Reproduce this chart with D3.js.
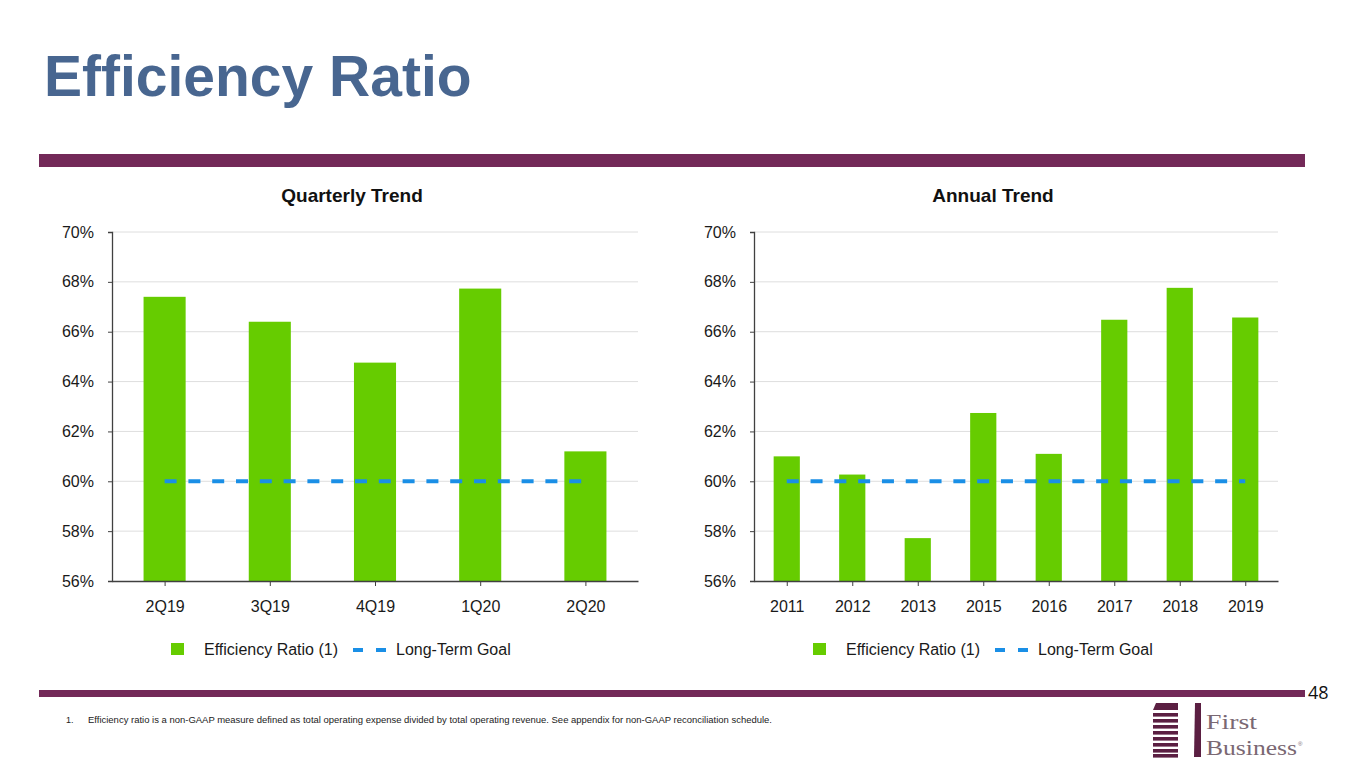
<!DOCTYPE html>
<html>
<head>
<meta charset="utf-8">
<script src="https://cdn.jsdelivr.net/npm/d3@7"></script>
<style>
  html, body { margin: 0; padding: 0; background: #fff; }
  svg { display: block; font-family: "Liberation Sans", Arial, sans-serif; }
</style>
</head>
<body>
<svg id="chart" width="1365" height="768"></svg>
<script>
// ---------- data ----------
const quarterCategories = ["2Q19", "3Q19", "4Q19", "1Q20", "2Q20"];
const quarterValues = [67.4, 66.4, 64.76, 67.73, 61.2];
const annualCategories = ["2011", "2012", "2013", "2015", "2016", "2017", "2018", "2019"];
const annualValues = [61.0, 60.27, 57.72, 62.74, 61.1, 66.48, 67.76, 66.57];
const goalValue = 60;
const yTicks = [56, 58, 60, 62, 64, 66, 68, 70];
const seriesNames = ["Efficiency Ratio (1)", "Long-Term Goal"];
const chartTitles = ["Quarterly Trend", "Annual Trend"];

const svg = d3.select("#chart");
const BAR = "#66cc00", GOAL = "#1a8fe6", PURPLE = "#732958";

// ---------- header ----------
svg.append("text").attr("x", 44).attr("y", 96)
  .attr("fill", "#486690").attr("font-size", 57).attr("font-weight", "bold")
  .text("Efficiency Ratio");
svg.append("rect").attr("x", 39).attr("y", 154).attr("width", 1266).attr("height", 13).attr("fill", PURPLE);

// ---------- charts ----------
function drawChart(cfg) {
  const { x0, x1, cats, vals, title } = cfg;
  const yTop = 232, yBot = 581;
  const x = d3.scaleBand().domain(cats).range([x0, x1]).paddingInner(0.6).paddingOuter(0.3);
  const xc = d3.scalePoint().domain(cats).range([x0, x1]).padding(0.5);
  const y = d3.scaleLinear().domain([56, 70]).range([yBot, yTop]);
  const g = svg.append("g");

  g.append("text").attr("x", (x0 + x1) / 2 - 23).attr("y", 202).attr("text-anchor", "middle")
    .attr("font-size", 19).attr("font-weight", "bold").attr("fill", "#111").text(title);

  // gridlines
  g.append("g").selectAll("line").data(yTicks.filter(t => t > 56)).join("line")
    .attr("x1", x0).attr("x2", x1).attr("y1", d => y(d)).attr("y2", d => y(d))
    .attr("stroke", "#dedede").attr("stroke-width", 1);

  // bars
  g.append("g").selectAll("rect").data(vals).join("rect")
    .attr("x", (d, i) => xc(cats[i]) - x.bandwidth() / 2)
    .attr("width", x.bandwidth())
    .attr("y", d => y(d)).attr("height", d => yBot - y(d))
    .attr("fill", BAR);

  // goal line
  g.append("line")
    .attr("x1", xc(cats[0])).attr("x2", xc(cats[cats.length - 1]))
    .attr("y1", y(goalValue)).attr("y2", y(goalValue))
    .attr("stroke", GOAL).attr("stroke-width", 4).attr("stroke-dasharray", "12,11.8");

  // y axis
  const ya = g.append("g").attr("transform", `translate(${x0},0)`)
    .call(d3.axisLeft(y).tickValues(yTicks).tickFormat(d => d + "%").tickSize(4).tickPadding(14));
  ya.select(".domain").attr("stroke", "#404040").attr("stroke-width", 1.3);
  ya.selectAll(".tick line").attr("stroke", "#404040");
  ya.selectAll("text").attr("font-size", 16).attr("fill", "#1a1a1a")
    .attr("font-family", "'Liberation Sans', Arial, sans-serif");

  // x axis
  const xa = g.append("g").attr("transform", `translate(0,${yBot})`)
    .call(d3.axisBottom(xc).tickSize(5).tickPadding(15).tickSizeOuter(0));
  xa.select(".domain").attr("stroke", "#404040").attr("stroke-width", 1.3);
  xa.selectAll(".tick line").attr("stroke", "#404040");
  xa.selectAll("text").attr("font-size", 16).attr("fill", "#1a1a1a")
    .attr("font-family", "'Liberation Sans', Arial, sans-serif");

  // legend
  const ox = x0 + 59, ly = 655;
  const lg = g.append("g");
  lg.append("rect").attr("x", ox).attr("y", ly - 12).attr("width", 13).attr("height", 12).attr("fill", BAR);
  lg.append("text").attr("x", ox + 33).attr("y", ly).attr("font-size", 16).attr("fill", "#1a1a1a").text(seriesNames[0]);
  lg.append("line").attr("x1", ox + 182).attr("x2", ox + 215).attr("y1", ly - 5).attr("y2", ly - 5)
    .attr("stroke", GOAL).attr("stroke-width", 4).attr("stroke-dasharray", "10,13");
  lg.append("text").attr("x", ox + 225).attr("y", ly).attr("font-size", 16).attr("fill", "#1a1a1a").text(seriesNames[1]);
}

drawChart({ x0: 112, x1: 638, cats: quarterCategories, vals: quarterValues, title: chartTitles[0] });
drawChart({ x0: 754, x1: 1278, cats: annualCategories, vals: annualValues, title: chartTitles[1] });

// ---------- footer ----------
svg.append("rect").attr("x", 39).attr("y", 690).attr("width", 1266).attr("height", 7).attr("fill", PURPLE);
svg.append("text").attr("x", 1308).attr("y", 699).attr("font-size", 18).attr("fill", "#111")
  .attr("font-family", "'Open Sans', 'Liberation Sans', sans-serif").text("48");

svg.append("text").attr("x", 66).attr("y", 723).attr("font-size", 9).attr("fill", "#222").text("1.");
svg.append("text").attr("x", 88).attr("y", 723).attr("font-size", 9).attr("fill", "#222")
  .attr("textLength", 684).attr("lengthAdjust", "spacingAndGlyphs")
  .text("Efficiency ratio is a non-GAAP measure defined as total operating expense divided by total operating revenue.  See appendix for non-GAAP reconciliation schedule.");

// logo
const LOGO = "#5b1f42";
const logo = svg.append("g");
logo.append("path").attr("d", "M1156,703 L1178,703 L1178,710 L1153,710 Z").attr("fill", LOGO);
[713, 719, 725, 731, 737, 743, 749, 754].forEach(yy => {
  logo.append("rect").attr("x", 1153).attr("y", yy).attr("width", 25).attr("height", 3.6).attr("fill", LOGO);
});
logo.append("path").attr("d", "M1195,703 L1201,703 L1201,757 L1194,757 Z").attr("fill", LOGO);
logo.append("text").attr("x", 1206).attr("y", 729).attr("font-size", 22)
  .attr("font-family", "'Liberation Serif', 'DejaVu Serif', serif").attr("fill", "#7a6873")
  .attr("textLength", 51).attr("lengthAdjust", "spacingAndGlyphs").text("First");
logo.append("text").attr("x", 1206).attr("y", 755).attr("font-size", 22)
  .attr("font-family", "'Liberation Serif', 'DejaVu Serif', serif").attr("fill", "#7a6873")
  .attr("textLength", 91).attr("lengthAdjust", "spacingAndGlyphs").text("Business");
logo.append("text").attr("x", 1298).attr("y", 746).attr("font-size", 6)
  .attr("font-family", "'Liberation Sans', sans-serif").attr("fill", "#7a6873").text("®");
</script>
</body>
</html>
